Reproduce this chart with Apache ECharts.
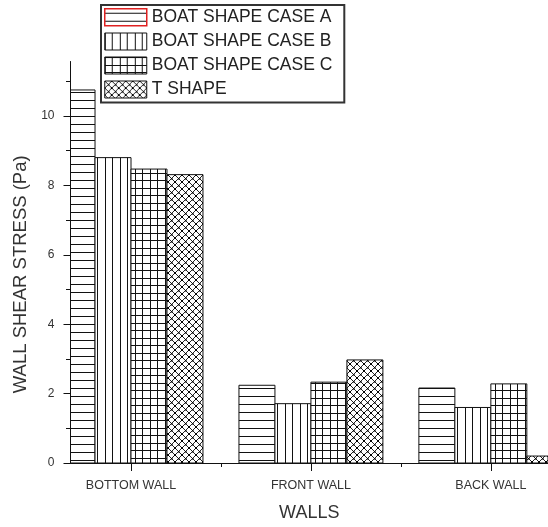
<!DOCTYPE html>
<html>
<head>
<meta charset="utf-8">
<script src="https://cdn.jsdelivr.net/npm/echarts@6/dist/echarts.min.js"></script>
<style>
  html, body { margin: 0; padding: 0; background: #fff; }
  #chart { width: 548px; height: 527px; }
</style>
</head>
<body>
<div id="chart"></div>
<script>
// Wall shear stress per wall, for each geometry
const walls = ['BOTTOM WALL', 'FRONT WALL', 'BACK WALL'];
const wallPositions = [1, 2, 3];
const caseA = [10.75, 2.24, 2.16];
const caseB = [8.80, 1.71, 1.60];
const caseC = [8.47, 2.33, 2.28];
const tShape = [8.31, 2.97, 0.20];
const seriesNames = ['BOAT SHAPE CASE A', 'BOAT SHAPE CASE B', 'BOAT SHAPE CASE C', 'T SHAPE'];
const yTicks = [0, 2, 4, 6, 8, 10];
const yMinorTicks = [1, 3, 5, 7, 9, 11];
const xMinorTicks = [1.5, 2.5];

const FONT = '"Liberation Sans", Arial, sans-serif';
const INK = '#111';

// Hatch tiles used as bar fills
function tile(w, h, draw) {
  const c = document.createElement('canvas');
  c.width = w; c.height = h;
  const ctx = c.getContext('2d');
  ctx.fillStyle = '#fff';
  ctx.fillRect(0, 0, w, h);
  ctx.fillStyle = INK;
  ctx.strokeStyle = INK;
  draw(ctx);
  return { image: c, repeat: 'repeat' };
}
const horizontalHatch = tile(8, 8, ctx => ctx.fillRect(0, 4, 8, 1));
const verticalHatch = tile(15, 8, ctx => { ctx.fillRect(0, 0, 1, 8); ctx.fillRect(7, 0, 1, 8); });
const gridHatch = tile(15, 15, ctx => {
  ctx.fillRect(0, 0, 1, 15); ctx.fillRect(7, 0, 1, 15);
  ctx.fillRect(0, 0, 15, 1); ctx.fillRect(0, 8, 15, 1);
});
const crossHatch = tile(7, 7, ctx => {
  ctx.strokeStyle = '#222';
  ctx.lineWidth = 1;
  ctx.beginPath();
  ctx.moveTo(0, 0); ctx.lineTo(7, 7);
  ctx.moveTo(7, 0); ctx.lineTo(0, 7);
  ctx.stroke();
  ctx.fillStyle = '#000';
  ctx.fillRect(3, 3, 1.5, 1.5);
  ctx.fillRect(0, 0, 1, 1); ctx.fillRect(6, 0, 1, 1);
  ctx.fillRect(0, 6, 1, 1); ctx.fillRect(6, 6, 1, 1);
});

const fills = [horizontalHatch, verticalHatch, gridHatch, crossHatch];
const values = [caseA, caseB, caseC, tShape];

const gridLeft = 70.5, gridTop = 61.5, gridWidth = 483, gridHeight = 406;
const bandPx = 182;
const xMin = 1 - (131.7 - gridLeft) / bandPx;
const xMax = xMin + gridWidth / bandPx;
const barFraction = 0.2; // each bar's width as a share of the spacing between walls

// Grouped bars: four adjacent bars centred on each wall, clipped to the plot area
function makeRenderItem(seriesIdx) {
  return function (params, api) {
    const x = api.value(0);
    const v = api.value(1);
    const top = api.coord([x, v]);
    const base = api.coord([x, 0]);
    const w = api.size([1, 0])[0] * barFraction;
    const left = top[0] + (seriesIdx - 2) * w;
    const cs = params.coordSys;
    const rect = echarts.graphic.clipRectByRect(
      { x: left, y: top[1], width: w, height: base[1] - top[1] },
      { x: cs.x, y: cs.y, width: cs.width, height: cs.height }
    );
    if (!rect) return null;
    return {
      type: 'rect',
      shape: rect,
      style: { fill: fills[seriesIdx], stroke: INK, lineWidth: 1 }
    };
  };
}

const chart = echarts.init(document.getElementById('chart'));
chart.setOption({
  backgroundColor: '#fff',
  animation: false,
  textStyle: { fontFamily: FONT },
  grid: { left: gridLeft, top: gridTop, width: gridWidth, height: gridHeight },
  legend: {
    orient: 'vertical',
    left: 101,
    top: 5,
    padding: [3, 12, 4, 3],
    itemWidth: 42,
    itemHeight: 17,
    itemGap: 6,
    icon: 'rect',
    selectedMode: false,
    backgroundColor: '#fff',
    borderColor: '#333',
    borderWidth: 2,
    textStyle: { fontSize: 17.5, color: '#222', fontFamily: FONT },
    data: seriesNames.map((name, i) => ({
      name,
      itemStyle: {
        color: fills[i],
        borderColor: i === 0 ? '#e02020' : INK,
        borderWidth: i === 0 ? 1.5 : 1
      }
    }))
  },
  xAxis: [
    {
      type: 'value',
      min: xMin,
      max: xMax,
      name: 'WALLS',
      nameLocation: 'middle',
      nameGap: 41,
      nameTextStyle: { fontSize: 18, color: '#333', fontFamily: FONT },
      axisLine: { show: true, lineStyle: { color: INK, width: 1 } },
      axisTick: { show: true, customValues: wallPositions, length: 8, lineStyle: { color: INK } },
      axisLabel: {
        customValues: wallPositions,
        formatter: v => walls[wallPositions.indexOf(v)] || '',
        fontSize: 12.5, color: '#333', margin: 16, fontFamily: FONT
      },
      splitLine: { show: false }
    },
    {
      type: 'value',
      min: xMin,
      max: xMax,
      position: 'bottom',
      axisLine: { show: false },
      axisTick: { show: true, customValues: xMinorTicks, length: 4, lineStyle: { color: INK } },
      axisLabel: { show: false },
      splitLine: { show: false }
    }
  ],
  yAxis: [
    {
      type: 'value',
      min: 0,
      max: 11.57,
      name: 'WALL SHEAR STRESS (Pa)',
      nameLocation: 'middle',
      nameGap: 37,
      nameTextStyle: { fontSize: 18.5, color: '#333', fontFamily: FONT, padding: [0, 24, 0, 0] },
      axisLine: { show: true, lineStyle: { color: INK, width: 1 } },
      axisTick: { show: true, customValues: yTicks, length: 7, lineStyle: { color: INK } },
      axisLabel: { customValues: yTicks, fontSize: 12, color: '#333', margin: 16, fontFamily: FONT },
      splitLine: { show: false }
    },
    {
      type: 'value',
      min: 0,
      max: 11.57,
      position: 'left',
      axisLine: { show: false },
      axisTick: { show: true, customValues: yMinorTicks, length: 4.5, lineStyle: { color: INK } },
      axisLabel: { show: false },
      splitLine: { show: false }
    }
  ],
  series: seriesNames.map((name, i) => ({
    name,
    type: 'custom',
    xAxisIndex: 0,
    yAxisIndex: 0,
    clip: true,
    itemStyle: { color: fills[i], borderColor: INK, borderWidth: 1 },
    encode: { x: 0, y: 1 },
    renderItem: makeRenderItem(i),
    data: wallPositions.map((x, k) => [x, values[i][k]])
  }))
});
</script>
</body>
</html>
